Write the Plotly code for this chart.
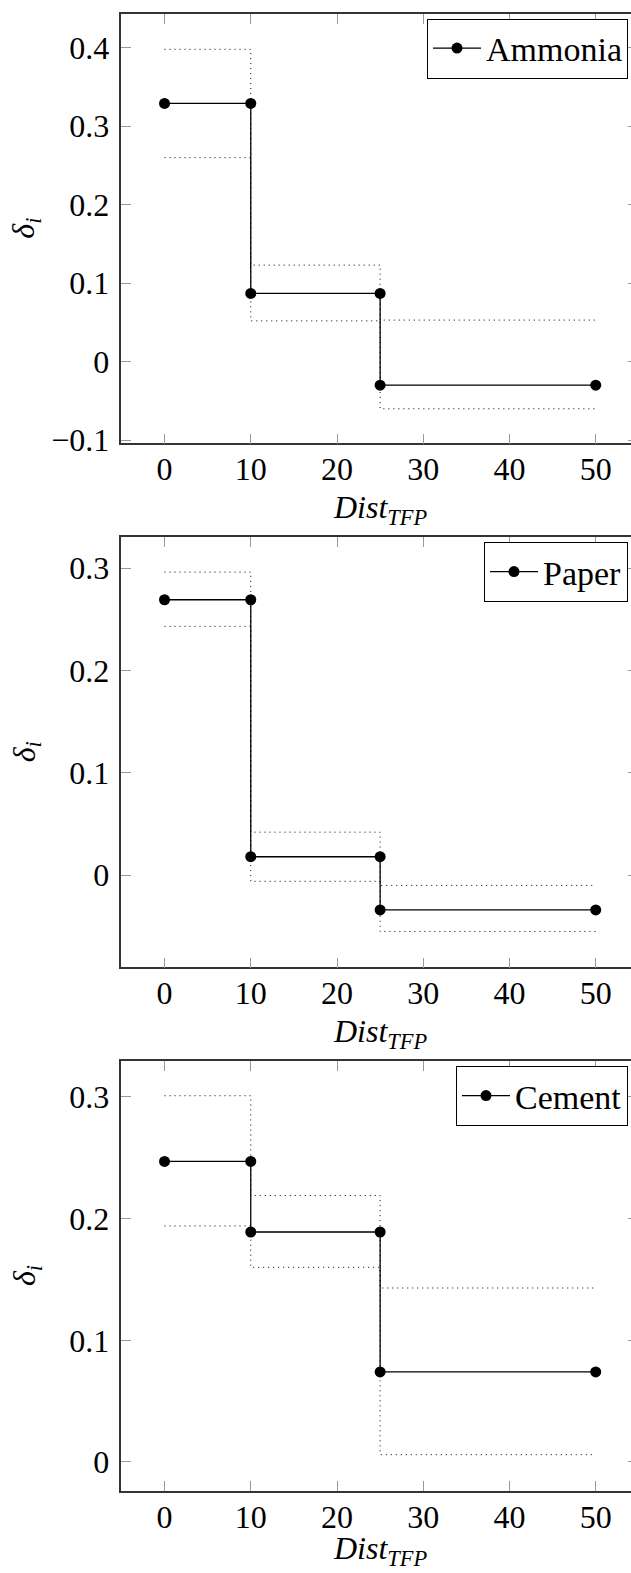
import plotly.graph_objects as go

# ---------------- data ----------------
breaks = [0, 10, 25, 50]
sectors = ["Ammonia", "Paper", "Cement"]

ammonia_delta = [0.329, 0.087, -0.030]
ammonia_upper = [0.398, 0.123, 0.053]
ammonia_lower = [0.260, 0.052, -0.060]

paper_delta = [0.269, 0.018, -0.034]
paper_upper = [0.296, 0.042, -0.010]
paper_lower = [0.243, -0.006, -0.055]

cement_delta = [0.247, 0.189, 0.074]
cement_upper = [0.301, 0.219, 0.143]
cement_lower = [0.194, 0.160, 0.006]

x_ticks = [0, 10, 20, 30, 40, 50]
y_ticks = [[-0.1, 0, 0.1, 0.2, 0.3, 0.4], [0, 0.1, 0.2, 0.3], [0, 0.1, 0.2, 0.3]]
y_ranges = [[-0.104, 0.443], [-0.090, 0.330], [-0.0236, 0.3293]]
x_range = [-5, 54.09]

series = [
    (ammonia_delta, ammonia_upper, ammonia_lower),
    (paper_delta, paper_upper, paper_lower),
    (cement_delta, cement_upper, cement_lower),
]

# ---------------- layout geometry ----------------
W, H = 631, 1573
panels_px = [(14, 443.3), (537.3, 967.3), (1061.3, 1490.7)]
left_px = 121.4
legend_top_px = [18.5, 542, 1066]

FONT = "Liberation Serif, DejaVu Serif, serif"
LINE = "#333"
TICK = "#999"


def step(vals):
    xs, ys = [], []
    for i, v in enumerate(vals):
        xs += [breaks[i], breaks[i + 1]]
        ys += [v, v]
    return xs, ys


fig = go.Figure()
annotations = []
layout = dict(
    width=W, height=H,
    margin=dict(l=0, r=0, t=0, b=0, autoexpand=False),
    paper_bgcolor="white", plot_bgcolor="white",
    template="none",
    font=dict(family=FONT, size=32, color="black"),
)

for k, (name, (d, u, l)) in enumerate(zip(sectors, series)):
    n = k + 1
    xa = "x" if n == 1 else f"x{n}"
    ya = "y" if n == 1 else f"y{n}"
    xt = f"x{n + 3}"
    yr = f"y{n + 3}"
    leg = "legend" if n == 1 else f"legend{n}"

    for vals in (u, l):
        xs, ys = step(vals)
        fig.add_trace(go.Scatter(
            x=xs, y=ys, mode="lines", xaxis=xa, yaxis=ya,
            line=dict(color="black", width=1, dash="1px,4px"),
            showlegend=False, hoverinfo="skip"))
    xs, ys = step(d)
    fig.add_trace(go.Scatter(
        x=xs, y=ys, mode="lines+markers", name=name, xaxis=xa, yaxis=ya,
        line=dict(color="black", width=1.3),
        marker=dict(color="black", size=11, symbol="circle"),
        legend=leg))
    # empty traces so that the frame axes (top / right) get drawn
    fig.add_trace(go.Scatter(x=[], y=[], xaxis=xt, yaxis=ya, mode="lines",
                             showlegend=False, hoverinfo="skip"))
    fig.add_trace(go.Scatter(x=[], y=[], xaxis=xa, yaxis=yr, mode="lines",
                             showlegend=False, hoverinfo="skip"))

    top, bot = panels_px[k]
    dom = [1 - bot / H, 1 - top / H]
    xkey = "xaxis" if n == 1 else f"xaxis{n}"
    ykey = "yaxis" if n == 1 else f"yaxis{n}"
    layout[xkey] = dict(
        domain=[left_px / W, 1], range=x_range, anchor=ya,
        tickvals=x_ticks, ticks="inside", ticklen=10, tickcolor=TICK,
        tickwidth=1, showline=True, linecolor=LINE, linewidth=1.5,
        mirror=False, showgrid=False, zeroline=False, automargin=False,
        ticklabelstandoff=-3, tickfont=dict(family=FONT, size=32, color="black"))
    layout[ykey] = dict(
        domain=dom, range=y_ranges[k], anchor=xa,
        tickvals=y_ticks[k], ticks="inside", ticklen=10, tickcolor=TICK,
        tickwidth=1, showline=True, linecolor=LINE, linewidth=1.5,
        mirror=False, showgrid=False, zeroline=False, automargin=False,
        ticklabelstandoff=4, tickfont=dict(family=FONT, size=32, color="black"))
    # top frame with inner ticks
    layout[f"xaxis{n + 3}"] = dict(
        overlaying=xa, side="top", anchor=ya, range=x_range,
        tickvals=x_ticks, ticks="inside", ticklen=10, tickcolor=TICK,
        tickwidth=1, showline=True, linecolor=LINE, linewidth=1.5,
        showticklabels=False, showgrid=False, zeroline=False, automargin=False)
    # right-side inner ticks (frame itself lies just beyond the window)
    layout[f"yaxis{n + 3}"] = dict(
        overlaying=ya, side="right", anchor=xa, range=y_ranges[k],
        tickvals=y_ticks[k], ticks="inside", ticklen=3, tickcolor=TICK,
        tickwidth=1, showticklabels=False, showline=False,
        showgrid=False, zeroline=False, automargin=False)

    layout[leg] = dict(
        x=628 / W, xanchor="right", y=1 - legend_top_px[k] / H, yanchor="top",
        bgcolor="white", bordercolor="black", borderwidth=1, itemwidth=48,
        font=dict(family=FONT, size=34, color="black"))

    # axis titles
    annotations.append(dict(
        text="<i>δ</i><sub><i>i</i></sub>", xref="paper", yref="paper",
        x=26 / W, y=(dom[0] + dom[1]) / 2, xanchor="center", yanchor="middle",
        textangle=-90, showarrow=False, font=dict(family=FONT, size=32)))
    if n < 3:
        ty, tanchor = 1 - (bot + 44) / H, "top"
    else:
        ty, tanchor = 0, "bottom"
    annotations.append(dict(
        text="<i>Dist</i><sub><i>TFP</i></sub>", xref="paper", yref="paper",
        x=380 / W, y=ty, xanchor="center", yanchor=tanchor,
        showarrow=False, font=dict(family=FONT, size=32)))

layout["annotations"] = annotations
fig.update_layout(**layout)
fig.write_html("out.html")
